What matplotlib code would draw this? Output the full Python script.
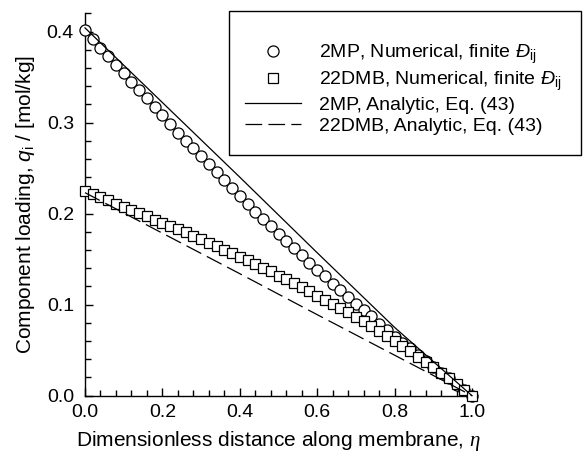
import matplotlib
matplotlib.use("Agg")
import matplotlib.pyplot as plt
from matplotlib.ticker import MultipleLocator
from matplotlib.lines import Line2D
from matplotlib.patches import Rectangle

plt.rcParams['font.family'] = ['Liberation Sans', 'DejaVu Sans']
plt.rcParams['mathtext.fontset'] = 'custom'
plt.rcParams['mathtext.rm'] = 'Liberation Sans'
plt.rcParams['mathtext.it'] = 'Liberation Sans:italic'
plt.rcParams['mathtext.sf'] = 'Liberation Serif:italic'
plt.rcParams['lines.scale_dashes'] = False

# ---- data ----
eta = [i * 0.02 for i in range(51)]
q_2mp_num = [0.402, 0.392, 0.382, 0.373, 0.363, 0.354, 0.345, 0.336, 0.327, 0.317,
             0.308, 0.298, 0.289, 0.280, 0.272, 0.263, 0.255, 0.246, 0.237, 0.228,
             0.219, 0.211, 0.202, 0.194, 0.186, 0.178, 0.170, 0.162, 0.154, 0.146,
             0.138, 0.131, 0.123, 0.116, 0.108, 0.101, 0.094, 0.087, 0.079, 0.072,
             0.065, 0.058, 0.052, 0.045, 0.038, 0.032, 0.025, 0.019, 0.012, 0.006, 0.000]
q_22dmb_num = [0.225, 0.2215, 0.218, 0.2145, 0.211, 0.2075, 0.204, 0.2005, 0.197, 0.1935,
               0.190, 0.1865, 0.183, 0.1795, 0.1755, 0.172, 0.168, 0.1645, 0.1605, 0.1565,
               0.1525, 0.1485, 0.1445, 0.1405, 0.1365, 0.132, 0.128, 0.1235, 0.119, 0.1145,
               0.110, 0.1055, 0.101, 0.0965, 0.0915, 0.0865, 0.0815, 0.0765, 0.0715, 0.066,
               0.0605, 0.055, 0.049, 0.043, 0.037, 0.031, 0.025, 0.019, 0.0128, 0.0065, 0.000]
eta_an = [0.0, 0.2, 0.4, 0.6, 0.8, 1.0]
q_2mp_an = [0.404, 0.322, 0.240, 0.157, 0.075, 0.000]
q_22dmb_an = [0.223, 0.1785, 0.134, 0.089, 0.0445, 0.000]

labels = [r"2MP, Numerical, finite $\mathit{Đ}_{\mathrm{ij}}$",
          r"22DMB, Numerical, finite $\mathit{Đ}_{\mathrm{ij}}$",
          "2MP, Analytic, Eq. (43)",
          "22DMB, Analytic, Eq. (43)"]

FS = 14
LFS = 15
W, H = 584, 459

fig = plt.figure(figsize=(5.84, 4.59), dpi=100)
ax = fig.add_axes([85/W, 1 - 395.7/H, 387/W, (395.7 - 13.3)/H])

ax.plot(eta, q_2mp_num, 'o', ms=8.0, mfc='white', mec='black', mew=0.9,
        clip_on=False, zorder=3)
ax.plot(eta, q_22dmb_num, 's', ms=6.8, mfc='white', mec='black', mew=0.9,
        clip_on=False, zorder=4)
ax.plot(eta_an, q_2mp_an, '-', color='black', lw=0.9, zorder=5, clip_on=False)
ax.plot(eta_an, q_22dmb_an, color='black', lw=0.9, dashes=(12, 4.5), zorder=5,
        clip_on=False)

ax.set_xlim(0, 1.0)
ax.set_ylim(0, 0.42)
ax.xaxis.set_major_locator(MultipleLocator(0.2))
ax.xaxis.set_minor_locator(MultipleLocator(0.04))
ax.yaxis.set_major_locator(MultipleLocator(0.1))
ax.yaxis.set_minor_locator(MultipleLocator(0.02))
ax.xaxis.set_major_formatter(plt.FuncFormatter(lambda v, p: f"{v:.1f}"))
ax.yaxis.set_major_formatter(plt.FuncFormatter(lambda v, p: f"{v:.1f}"))
ax.spines['top'].set_visible(False)
ax.spines['right'].set_visible(False)
for s in ('left', 'bottom'):
    ax.spines[s].set_linewidth(1.0)
ax.tick_params(which='both', direction='in', width=1.0, labelsize=FS)
ax.tick_params(which='major', length=6)
ax.tick_params(which='minor', length=4)
ax.tick_params(axis='x', which='major', pad=6)
ax.tick_params(axis='y', which='major', pad=8)

ax.set_xlabel(r"Dimensionless distance along membrane, $\mathsf{\eta}$", fontsize=LFS,
              labelpad=6)
ax.set_ylabel(r"Component loading, $q_{\mathrm{i}}$ / [mol/kg]", fontsize=LFS,
              labelpad=7)

handles = [
    Line2D([], [], ls='none', marker='o', ms=8.0, mfc='white', mec='black', mew=0.9),
    Line2D([], [], ls='none', marker='s', ms=6.8, mfc='white', mec='black', mew=0.9),
    Line2D([], [], color='black', lw=0.9),
    Line2D([], [], color='black', lw=0.9, dashes=(12, 4.5)),
]
leg = fig.legend(handles, labels, loc='upper left',
                 bbox_to_anchor=(245/W, 1 - 43/H),
                 fontsize=FS, frameon=False,
                 handlelength=2.9, handletextpad=0.9, borderpad=0,
                 labelspacing=0.18, borderaxespad=0)

fig.add_artist(Rectangle((229/W, 1 - 155/H), (581 - 229)/W, (155 - 11)/H,
                         transform=fig.transFigure, fill=False,
                         edgecolor='black', linewidth=1.0))

fig.savefig("out.png", dpi=100)
